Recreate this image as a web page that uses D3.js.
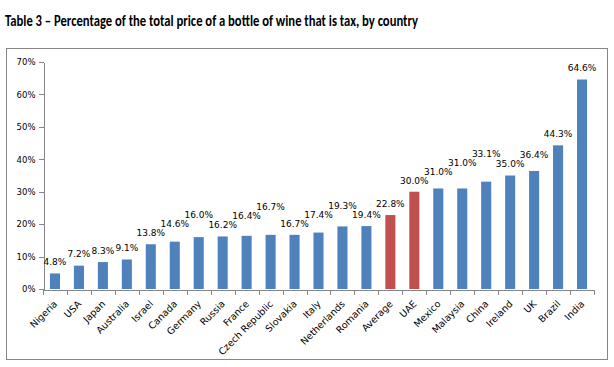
<!DOCTYPE html>
<html>
  <head>
    <meta charset="utf-8">
    <script src="https://cdn.jsdelivr.net/npm/d3@7"></script>
    <style type="text/css">
      body { margin: 0; background: #fff; }
      .title { font-family: Carlito, "Liberation Sans Narrow", "Liberation Sans", sans-serif; font-weight: bold; font-size: 15px; fill: #000; }
      .axis text { font-family: "DejaVu Sans", Verdana, sans-serif; font-size: 8.5px; fill: #000; }
      .axis.x text { font-size: 9.5px; }
      .axis path, .axis line { fill: none; stroke: #868686; shape-rendering: crispEdges; }
      .val { font-family: "DejaVu Sans", Verdana, sans-serif; font-size: 9px; fill: #000; }
    </style>
  </head>
  <body>
    <div class="plot_canvas"></div>
    <script>

    var categories = ["Nigeria", "USA", "Japan", "Australia", "Israel", "Canada", "Germany",
      "Russia", "France", "Czech Republic", "Slovakia", "Italy", "Netherlands", "Romania",
      "Average", "UAE", "Mexico", "Malaysia", "China", "Ireland", "UK", "Brazil", "India"];
    var taxShare = [4.8, 7.2, 8.3, 9.1, 13.8, 14.6, 16.0, 16.2, 16.4, 16.7, 16.7, 17.4,
      19.3, 19.4, 22.8, 30.0, 31.0, 31.0, 33.1, 35.0, 36.4, 44.3, 64.6];
    var highlighted = ["Average", "UAE"];
    var yTicks = [0, 10, 20, 30, 40, 50, 60, 70];
    var title = "Table 3 \u2013 Percentage of the total price of a bottle of wine that is tax, by country";

    var W = 614, H = 367;
    var margin = {top: 62, right: 20, bottom: 78, left: 43};

    var svg = d3.select(".plot_canvas")
      .append("svg")
      .attr("width", W)
      .attr("height", H);

    svg.append("text")
      .attr("class", "title")
      .attr("x", 5)
      .attr("y", 26)
      .attr("textLength", 413)
      .attr("lengthAdjust", "spacingAndGlyphs")
      .text(title);

    // chart frame
    svg.append("rect")
      .attr("x", 6.5).attr("y", 48.5)
      .attr("width", 601).attr("height", 311)
      .attr("fill", "none")
      .attr("stroke", "#868686");

    var xScale = d3.scaleBand()
      .domain(categories)
      .range([margin.left, 594])
      .paddingInner(0.58)
      .paddingOuter(0.29);

    var yScale = d3.scaleLinear()
      .domain([0, 70])
      .range([H - margin.bottom, margin.top]);

    // y axis
    var yAxis = svg.append("g")
      .attr("class", "axis")
      .attr("transform", "translate(" + (margin.left + 0.5) + ",0)")
      .call(d3.axisLeft(yScale).tickValues(yTicks).tickSize(5).tickSizeOuter(0)
        .tickFormat(function(d) { return d + "%"; }));
    yAxis.selectAll("text").attr("x", -8);

    // x axis with labels only, ticks drawn at band edges
    var y0 = yScale(0);
    var xAxis = svg.append("g")
      .attr("class", "axis x")
      .attr("transform", "translate(0," + (y0 + 0.5) + ")")
      .call(d3.axisBottom(xScale).tickSize(0).tickSizeOuter(0));
    xAxis.selectAll("text")
      .attr("x", 0).attr("y", 0).attr("dy", 0)
      .style("text-anchor", "end")
      .attr("transform", "translate(3,15) rotate(-45)");

    var step = xScale.step();
    var x0 = xScale.range()[0];
    xAxis.selectAll(".edge")
      .data(d3.range(categories.length + 1)).enter()
      .append("line")
      .attr("class", "edge")
      .attr("x1", function(i) { return Math.round(x0 + i * step) + 0.5; })
      .attr("x2", function(i) { return Math.round(x0 + i * step) + 0.5; })
      .attr("y1", 0).attr("y2", 5);

    // bars
    svg.append("g").selectAll("rect")
      .data(categories).enter()
      .append("rect")
      .attr("x", function(d) { return xScale(d); })
      .attr("width", xScale.bandwidth())
      .attr("y", function(d, i) { return yScale(taxShare[i]); })
      .attr("height", function(d, i) { return y0 - yScale(taxShare[i]); })
      .attr("fill", function(d) { return highlighted.indexOf(d) >= 0 ? "#C0504D" : "#4F81BD"; });

    // value labels, nudged upward when they collide with the previous one
    var labels = svg.append("g").selectAll("text")
      .data(categories).enter()
      .append("text")
      .attr("class", "val")
      .attr("text-anchor", "middle")
      .attr("x", function(d) { return xScale(d) + xScale.bandwidth() / 2; })
      .text(function(d, i) { return taxShare[i].toFixed(1) + "%"; });

    var placed = [];
    labels.each(function(d, i) {
      var w = this.getComputedTextLength();
      var cx = xScale(d) + xScale.bandwidth() / 2;
      var cy = yScale(taxShare[i]) - 11.5;
      var moved = true;
      while (moved) {
        moved = false;
        placed.forEach(function(p) {
          if (Math.abs(p.cx - cx) < (p.w + w) / 2 && Math.abs(p.cy - cy) < 9) {
            cy = p.cy - 9;
            moved = true;
          }
        });
      }
      placed.push({cx: cx, cy: cy, w: w});
      d3.select(this).attr("y", cy + 3.3);
    });

  </script>
</body>
</html>
